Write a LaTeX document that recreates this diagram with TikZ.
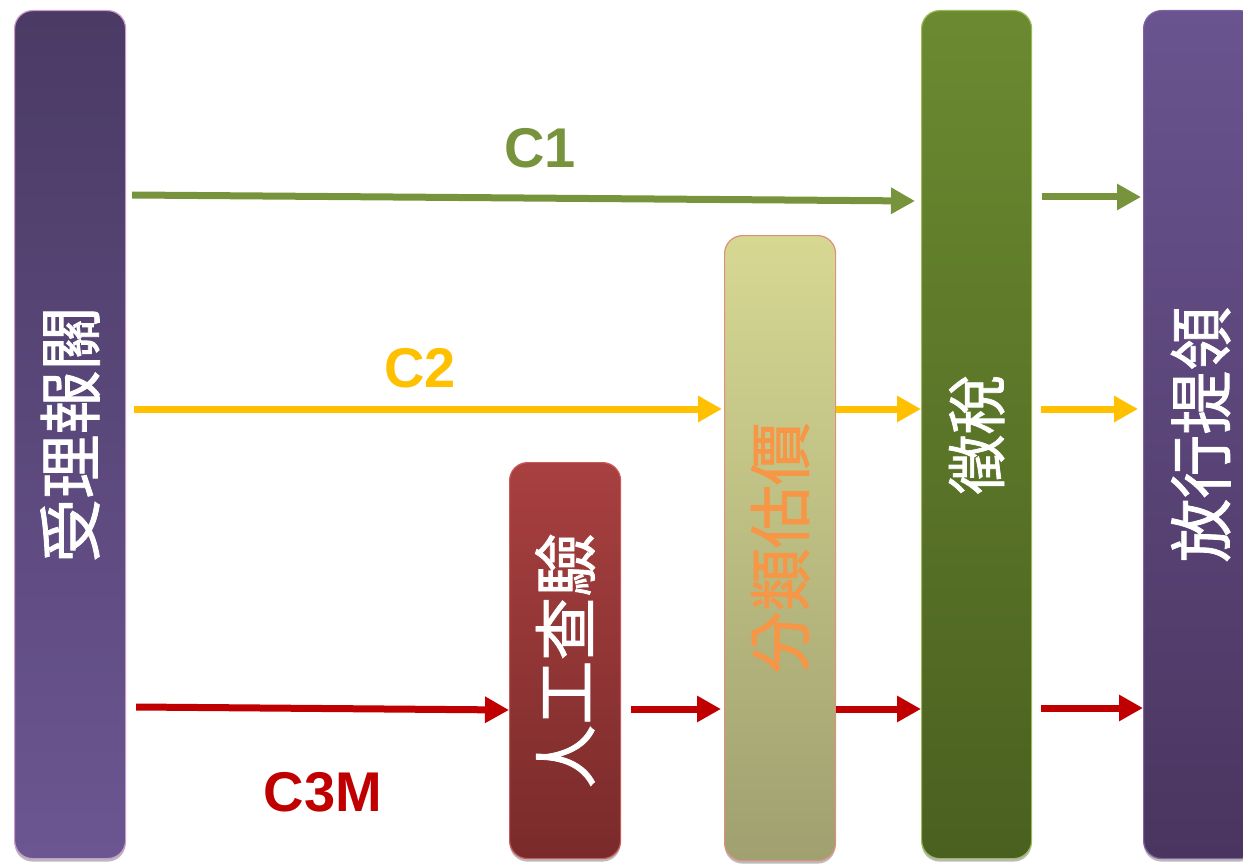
\documentclass[tikz,border=0pt]{standalone}
\usepackage{fontspec}
\setmainfont{Liberation Sans}
\newfontfamily\cjk[FakeBold=1.2]{Noto Sans CJK TC}
\usetikzlibrary{arrows.meta,shadows}
\definecolor{cgreen}{HTML}{77933C}
\definecolor{cyellow}{HTML}{FFC000}
\definecolor{cred}{HTML}{C00000}
\definecolor{corange}{HTML}{F79646}
\tikzset{
  box/.style={rounded corners=18pt, line width=1.2pt, inner sep=0pt, anchor=north west,
    drop shadow={shadow xshift=0pt, shadow yshift=-3pt, fill=black!45, opacity=0.6}},
  conn/.style={line width=7pt, -{Triangle[length=24pt,width=25pt]}},
  garr/.style={conn, draw=cgreen},
  yarr/.style={conn, draw=cyellow},
  rarr/.style={conn, draw=cred},
  lbl/.style={font=\bfseries\fontsize{56}{56}\selectfont}
}
\begin{document}
\begin{tikzpicture}[x=1pt,y=-1pt]
\useasboundingbox (0,0) rectangle (1243,864);
% boxes
\node[box, draw=violet!40!white, top color={rgb,255:red,74;green,58;blue,100}, bottom color={rgb,255:red,108;green,86;blue,146},
  minimum width=111pt, minimum height=848pt, text=white] (recv) at (14,10)
  {\rotatebox{90}{\fontsize{64}{64}\cjk 受理報關}};
\node[box, draw={rgb,255:red,200;green,90;blue,90}, top color={rgb,255:red,168;green,64;blue,64}, bottom color={rgb,255:red,122;green,42;blue,42},
  minimum width=111pt, minimum height=396pt, text=white] (insp) at (509,462)
  {\rotatebox{90}{\fontsize{64}{64}\cjk 人工查驗}};
\node[box, draw={rgb,255:red,220;green,145;blue,125}, top color={rgb,255:red,214;green,216;blue,146}, bottom color={rgb,255:red,160;green,160;blue,112},
  minimum width=111pt, minimum height=625pt, text=corange] (class) at (724,235)
  {\rotatebox{90}{\fontsize{63}{63}\cjk 分類估價}};
\node[box, draw={rgb,255:red,155;green,187;blue,89}, top color={rgb,255:red,107;green,138;blue,48}, bottom color={rgb,255:red,74;green,96;blue,32},
  minimum width=110pt, minimum height=848pt, text=white] (tax) at (921,10)
  {\rotatebox{90}{\fontsize{60}{60}\cjk 徵稅}};
\node[box, draw={rgb,255:red,128;green,100;blue,162}, top color={rgb,255:red,106;green,84;blue,144}, bottom color={rgb,255:red,74;green,53;blue,96},
  minimum width=114pt, minimum height=848pt, text=white] (rel) at (1143,10)
  {\rotatebox{90}{\fontsize{64}{64}\cjk 放行提領}};
% C1
\draw[garr] ([xshift=6pt]recv.east |- 0,195) -- ([xshift=-6pt]tax.west |- 0,201);
\draw[garr] ([xshift=10pt]tax.east |- 0,197) -- ([xshift=-2pt]rel.west |- 0,197);
% C2
\draw[yarr] ([xshift=8pt]recv.east |- 0,409) -- ([xshift=-2pt]class.west |- 0,409);
\draw[yarr] (class.east |- 0,409) -- (tax.west |- 0,409);
\draw[yarr] ([xshift=9pt]tax.east |- 0,409) -- ([xshift=-5pt]rel.west |- 0,409);
% C3M
\draw[rarr] ([xshift=10pt]recv.east |- 0,707) -- (insp.west |- 0,710);
\draw[rarr] ([xshift=10pt]insp.east |- 0,709) -- ([xshift=-3pt]class.west |- 0,709);
\draw[rarr] (class.east |- 0,709) -- (tax.west |- 0,709);
\draw[rarr] ([xshift=9pt]tax.east |- 0,708) -- (rel.west |- 0,708);
% labels
\node[lbl, text=cgreen] (l1) at (540,148) {C1};
\node[lbl, text=cyellow] (l2) at (420,368) {C2};
\node[lbl, text=cred] (l3) at (323,792) {C3M};
\end{tikzpicture}
\end{document}
